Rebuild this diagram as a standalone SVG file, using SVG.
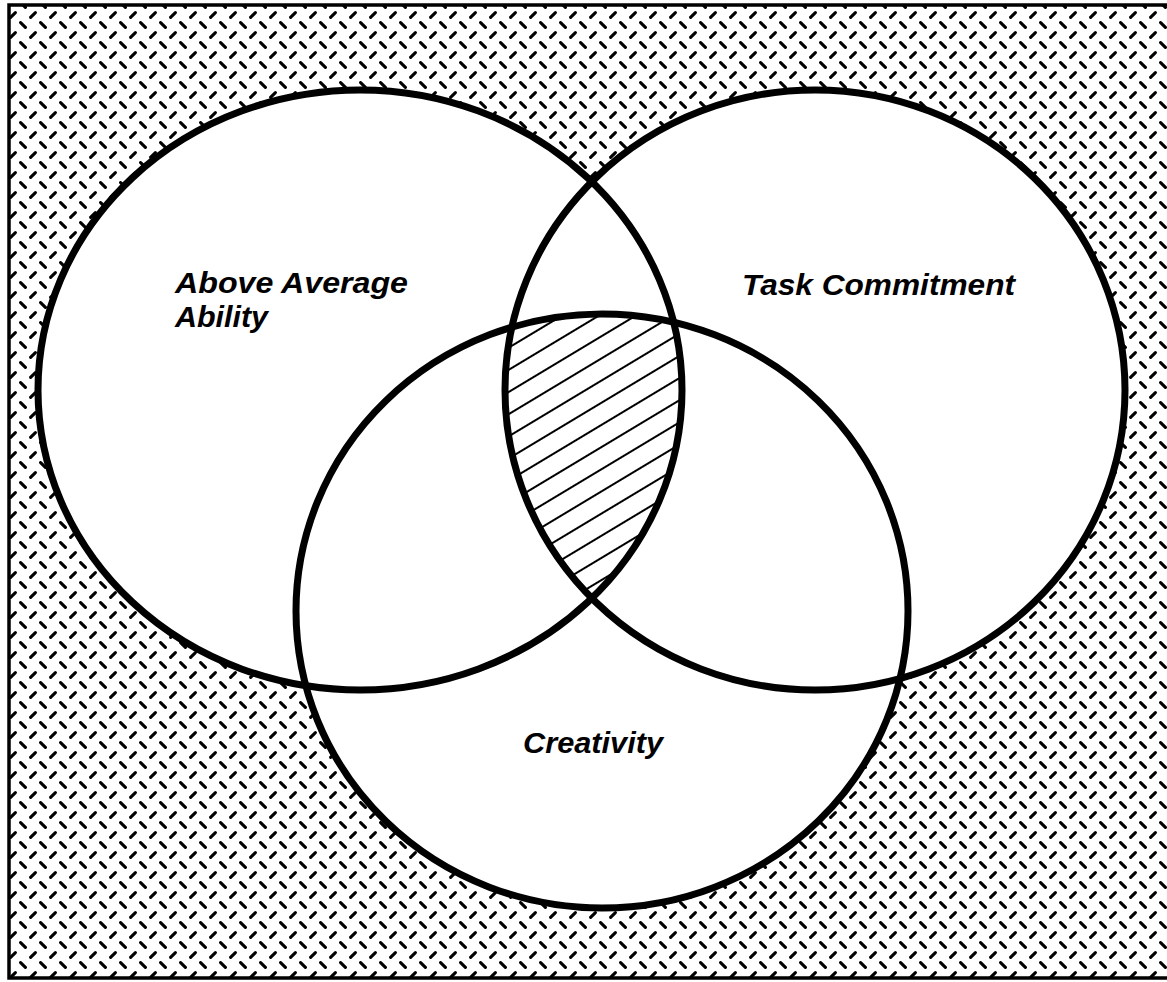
<svg xmlns="http://www.w3.org/2000/svg" width="1167" height="982" viewBox="0 0 1167 982">
  <defs>
    <pattern id="plate" patternUnits="userSpaceOnUse" x="0" y="0" width="20" height="20">
      <line x1="10.6" y1="17.4" x2="15.4" y2="12.6" stroke="#000" stroke-width="3.1" stroke-linecap="round"/>
      <line x1="0.6" y1="2.6" x2="5.4" y2="7.4" stroke="#000" stroke-width="3.1" stroke-linecap="round"/>
      <line x1="20.6" y1="2.6" x2="25.4" y2="7.4" stroke="#000" stroke-width="3.1" stroke-linecap="round"/>
    </pattern>
    <pattern id="hatch" patternUnits="userSpaceOnUse" width="40" height="19" patternTransform="rotate(-31)">
      <line x1="0" y1="9" x2="40" y2="9" stroke="#000" stroke-width="2"/>
    </pattern>
    <clipPath id="clipA"><ellipse cx="360" cy="390" rx="322" ry="300"/></clipPath>
    <clipPath id="clipB"><ellipse cx="815" cy="390" rx="310" ry="300"/></clipPath>
    <clipPath id="clipC"><ellipse cx="602" cy="611" rx="306" ry="297"/></clipPath>
    <style>
      .ring { fill: none; stroke: #000; stroke-width: 7; }
      .fillw { fill: #fff; stroke: none; }
      .lbl { font-family: "Liberation Sans", Arial, sans-serif; font-weight: bold; font-style: italic; font-size: 29px; fill: #000; }
      .frame { fill: none; stroke: #000; stroke-width: 3.5; }
    </style>
  </defs>

  <rect x="0" y="0" width="1167" height="982" fill="#fff"/>
  <rect x="9" y="5" width="1158" height="973" fill="url(#plate)"/>
  <path class="frame" d="M1167,5 L9,5 L9,978 L1167,978"/>

  <g id="fills">
    <ellipse class="fillw" cx="360" cy="390" rx="322" ry="300"/>
    <ellipse class="fillw" cx="815" cy="390" rx="310" ry="300"/>
    <ellipse class="fillw" cx="602" cy="611" rx="306" ry="297"/>
  </g>

  <g id="core" clip-path="url(#clipA)">
    <g clip-path="url(#clipB)">
      <rect x="400" y="250" width="400" height="400" fill="url(#hatch)" clip-path="url(#clipC)"/>
    </g>
  </g>

  <g id="ability">
    <ellipse class="ring" cx="360" cy="390" rx="322" ry="300"/>
    <text class="lbl" x="175" y="293" textLength="233" lengthAdjust="spacingAndGlyphs">Above Average</text>
    <text class="lbl" x="175" y="327" textLength="93" lengthAdjust="spacingAndGlyphs">Ability</text>
  </g>
  <g id="commitment">
    <ellipse class="ring" cx="815" cy="390" rx="310" ry="300"/>
    <text class="lbl" x="742" y="295" textLength="273" lengthAdjust="spacingAndGlyphs">Task Commitment</text>
  </g>
  <g id="creativity">
    <ellipse class="ring" cx="602" cy="611" rx="306" ry="297"/>
    <text class="lbl" x="523" y="753" textLength="140" lengthAdjust="spacingAndGlyphs">Creativity</text>
  </g>
  <g id="connectors"></g>
</svg>
